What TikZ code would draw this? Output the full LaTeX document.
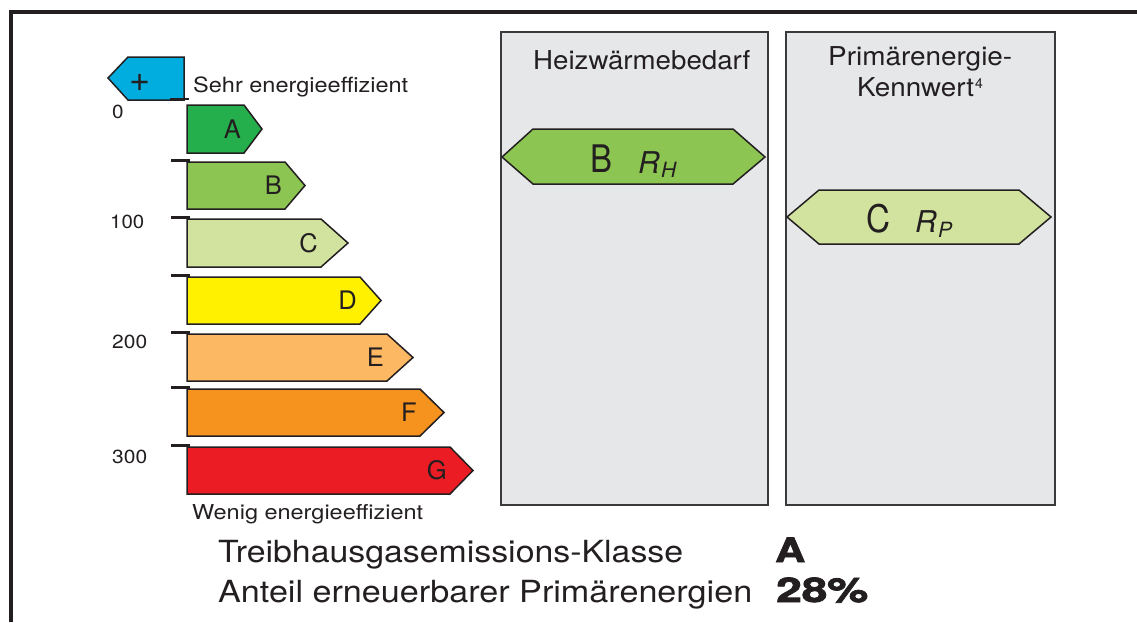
\documentclass[tikz,border=0pt]{standalone}
\usepackage{fontspec}
\setmainfont{TeX Gyre Heros}
\newfontfamily\heavyfont{TeX Gyre Heros}[BoldFeatures={FakeBold=2.2}]
\usepackage{graphicx}
\definecolor{textcol}{HTML}{231F20}
\definecolor{colA}{HTML}{25AE4C}
\definecolor{colB}{HTML}{8CC551}
\definecolor{colC}{HTML}{D1E39F}
\definecolor{colD}{HTML}{FFF100}
\definecolor{colE}{HTML}{FDB863}
\definecolor{colF}{HTML}{F6921E}
\definecolor{colG}{HTML}{EC1C24}
\definecolor{colPlus}{HTML}{00ADDE}
\definecolor{panelfill}{HTML}{E6E7E9}
\definecolor{panelline}{HTML}{3A3A3C}
\newcommand\fitw[2]{\resizebox{#1}{\height}{#2}}
\newcommand\fs[1]{\fontsize{#1}{#1}\selectfont}
\newcommand\ebar[6]{%
  \draw[barline, fill=#5] (187,#1) -- (#3,#1) -- (#4,{(#1+#2)/2}) -- (#3,#2) -- (187,#2) -- cycle;
  \node[barlbl] (lbl#6) at ({#3-3},{(#1+#2)/2}) {#6};
}
\tikzset{
  barline/.style={draw=textcol, line width=1.5pt, line join=miter},
  barlbl/.style={anchor=east, inner sep=0pt, text=textcol, font=\fs{25.5}},
  tick/.style={draw=textcol, line width=2.6pt},
  txt/.style={inner sep=0pt, anchor=base west, text=textcol},
  panel/.style={draw=panelline, line width=1.6pt, fill=panelfill},
  frame/.style={draw=textcol, line width=4pt},
}
\begin{document}
\begin{tikzpicture}[x=1pt,y=-1pt]
\useasboundingbox (0,0) rectangle (1137,622);
% outer frame
\draw[frame] (11,622) -- (11,12) -- (1137,12);

% plus arrow
\draw[barline, fill=colPlus] (108,78) -- (128,57) -- (184,57) -- (184,100) -- (128,100) -- cycle;
\node[inner sep=0pt, text=textcol, font=\fs{36}] (plus) at (140,83) {+};
\node[txt] (sehr) at (193,92.5) {\fs{21}\fitw{215pt}{Sehr energieeffizient}};

% bars
\ebar{105}{153}{244}{262}{colA}{A}
\ebar{162}{209}{285}{305}{colB}{B}
\ebar{219}{267}{321}{348}{colC}{C}
\ebar{277}{324}{360}{381}{colD}{D}
\ebar{334}{381}{387}{413}{colE}{E}
\ebar{389}{436}{420}{444}{colF}{F}
\ebar{447}{494}{450}{473}{colG}{G}

% ticks
\draw[tick] (170,99) -- (189,99);
\foreach \t in {160.5,217.5,275.5,332.5,387.5,445.5}{
  \draw[tick] (171,\t) -- (190,\t);
}

% scale numbers
\node[txt] (n0) at (112,118.7) {\fs{19}\fitw{11.5pt}{0}};
\node[txt] (n100) at (110,228) {\fs{19}\fitw{34pt}{100}};
\node[txt] (n200) at (112,348) {\fs{19}\fitw{35pt}{200}};
\node[txt] (n300) at (112,463) {\fs{19}\fitw{35pt}{300}};

\node[txt] (wenig) at (192,519.3) {\fs{20.5}\fitw{231pt}{Wenig energieeffizient}};

% panels
\draw[panel] (501,32) rectangle (768,505);
\draw[panel] (786,32) rectangle (1055,505);

\node[txt] (heiz) at (533,69.3) {\fs{26}\fitw{217pt}{Heizwärmebedarf}};
\node[txt] (prim) at (828,65.7) {\fs{26}\fitw{184pt}{Primärenergie-}};
\node[txt] (kenn) at (857,96) {\fs{26}\fitw{117pt}{Kennwert}};
\node[txt] (sup4) at (975,88) {\fs{14}4};

% rating arrows
\draw[barline, fill=colB] (502,157) -- (533,129) -- (733,129) -- (765,157) -- (733,184) -- (533,184) -- cycle;
\node[txt] (rb) at (590,172.7) {\fs{38}\fitw{22pt}{B}};
\node[txt] (rbR) at (638,173) {\fs{30}\textit{R}};
\node[txt] (rbH) at (661,177.5) {\fs{21}\textit{H}};

\draw[barline, fill=colC] (787,217) -- (819,190) -- (1019,190) -- (1051,217) -- (1019,244) -- (819,244) -- cycle;
\node[txt] (rc) at (866,232.5) {\fs{38}\fitw{24pt}{C}};
\node[txt] (rcR) at (915,232) {\fs{30}\textit{R}};
\node[txt] (rcP) at (938,237) {\fs{21}\textit{P}};

% bottom lines
\node[txt] (thg) at (218,562.3) {\fs{30.5}\fitw{465pt}{Treibhausgasemissions-Klasse}};
\node[txt] (thgv) at (775,562) {\fs{33.5}\fitw{30pt}{\heavyfont\bfseries A}};
\node[txt] (ant) at (218,602) {\fs{30.5}\fitw{534pt}{Anteil erneuerbarer Primärenergien}};
\node[txt] (antv) at (776,602) {\fs{34}\fitw{92pt}{\heavyfont\bfseries 28\%}};
\end{tikzpicture}
\end{document}
